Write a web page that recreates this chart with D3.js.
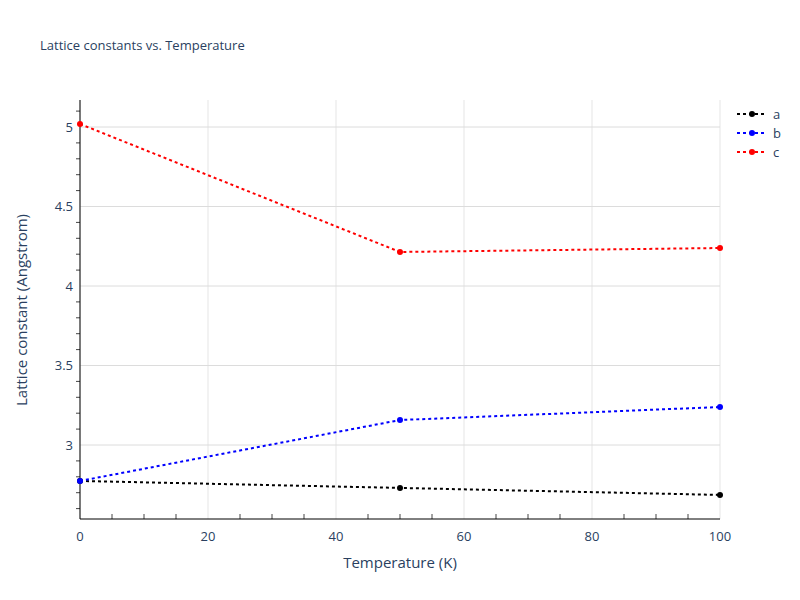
<!DOCTYPE html><html><head><script src="https://cdn.jsdelivr.net/npm/d3@7"></script>
<style>body{margin:0;background:#fff}text{font-family:"Open Sans",Arial,sans-serif}</style></head><body>
<svg id="c" width="800" height="600"></svg>
<script>
const temps=[0,50,100];
const aVals=[2.774,2.730,2.686];
const bVals=[2.774,3.157,3.239];
const cVals=[5.019,4.214,4.239];
const seriesNames=["a","b","c"];
const seriesColors=["black","blue","red"];
const xTicks=[0,20,40,60,80,100];
const yTicks=[3,3.5,4,4.5,5];
const series=[aVals,bVals,cVals];
const svg=d3.select("#c");
const x=d3.scaleLinear().domain([0,100]).range([80,720]);
const y=d3.scaleLinear().domain([3,5]).range([445,127]);
const g=svg.append("g");
xTicks.forEach(t=>g.append("line").attr("x1",x(t)).attr("x2",x(t)).attr("y1",100).attr("y2",519).attr("stroke","#e5e5e5"));
yTicks.forEach(t=>g.append("line").attr("x1",80).attr("x2",720).attr("y1",y(t)).attr("y2",y(t)).attr("stroke","#dcdcdc"));
d3.range(5,100,5).filter(v=>v%20!==0).forEach(t=>g.append("line").attr("x1",x(t)).attr("x2",x(t)).attr("y1",519).attr("y2",514).attr("stroke","#444"));
d3.range(26,52).map(v=>v/10).filter(v=>y(v)>100&&y(v)<519&&Math.abs(v*2-Math.round(v*2))>1e-6).forEach(t=>g.append("line").attr("x1",76).attr("x2",80).attr("y1",y(t)).attr("y2",y(t)).attr("stroke","#444"));
g.append("line").attr("x1",80).attr("x2",720).attr("y1",519).attr("y2",519).attr("stroke","black");
g.append("line").attr("x1",80).attr("x2",80).attr("y1",100).attr("y2",519).attr("stroke","black");
xTicks.forEach(t=>g.append("text").attr("x",x(t)).attr("y",541).attr("text-anchor","middle").attr("font-size",13).attr("fill","#2a3f5f").text(t));
yTicks.forEach(t=>g.append("text").attr("x",73).attr("y",y(t)+4.5).attr("text-anchor","end").attr("font-size",13).attr("fill","#2a3f5f").text(t));
const line=d3.line().x((d,i)=>x(temps[i])).y(d=>y(d));
series.forEach((s,k)=>{
 g.append("path").attr("d",line(s)).attr("fill","none").attr("stroke",seriesColors[k]).attr("stroke-width",2).attr("stroke-dasharray","3,3");
 s.forEach((v,i)=>g.append("circle").attr("cx",x(temps[i])).attr("cy",y(v)).attr("r",3).attr("fill",seriesColors[k]));
 const ly=114+k*19;
 g.append("line").attr("x1",737).attr("x2",767).attr("y1",ly).attr("y2",ly).attr("stroke",seriesColors[k]).attr("stroke-width",2).attr("stroke-dasharray","3,3");
 g.append("circle").attr("cx",752).attr("cy",ly).attr("r",3).attr("fill",seriesColors[k]);
 g.append("text").attr("x",773).attr("y",ly+4.5).attr("font-size",13).attr("fill","#2a3f5f").text(seriesNames[k]);
});
svg.append("text").attr("x",40).attr("y",50).attr("font-size",13).attr("fill","#2a3f5f").text("Lattice constants vs. Temperature");
svg.append("text").attr("x",400).attr("y",568).attr("text-anchor","middle").attr("font-size",15).attr("fill","#2a3f5f").text("Temperature (K)");
svg.append("text").attr("transform","translate(27,310) rotate(-90)").attr("text-anchor","middle").attr("font-size",15).attr("fill","#2a3f5f").text("Lattice constant (Angstrom)");
</script></body></html>
